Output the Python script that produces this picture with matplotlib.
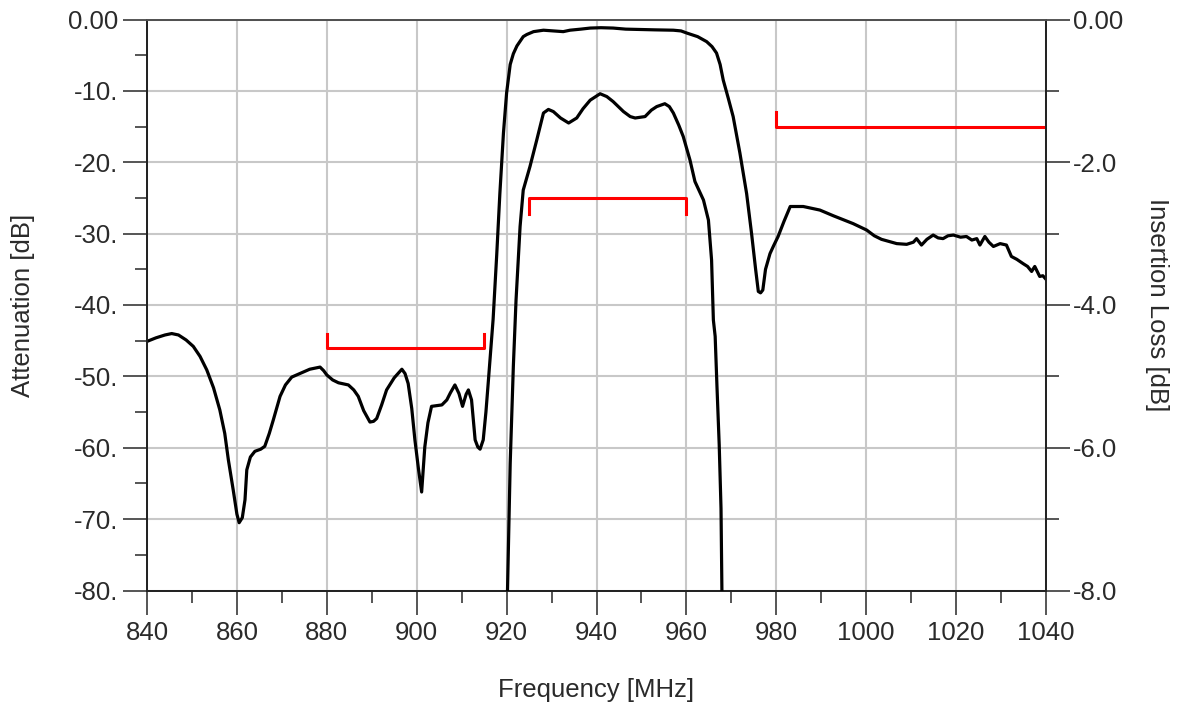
import matplotlib
matplotlib.use("Agg")
import matplotlib.pyplot as plt
from matplotlib.ticker import MultipleLocator, FuncFormatter

# ---------------- data ----------------
freq_att = [840.0, 842.0, 844.0, 845.5, 847.0, 848.7, 850.3, 851.8, 853.3, 854.8,
            856.2, 857.3, 858.1, 859.2, 860.0, 860.5, 861.2, 861.8, 862.2, 863.0,
            864.0, 865.3, 866.2, 867.2, 868.1, 869.6, 870.8, 872.2, 874.0, 876.2,
            878.5, 879.3, 880.0, 881.3, 882.6, 884.8, 886.0, 887.0, 888.2, 889.6,
            890.4, 891.1, 892.2, 893.3, 895.0, 896.7, 897.4, 898.1, 898.9, 899.6,
            900.4, 901.1, 901.8, 902.5, 903.3, 905.6, 906.7, 907.5, 908.5, 909.4,
            910.2, 911.0, 911.5, 912.2, 913.0, 913.6, 914.1, 914.8, 915.4, 915.9,
            917.0, 917.8, 918.5, 919.3, 920.0, 920.8, 921.5, 922.3, 923.7, 924.5,
            926.0, 928.2, 930.5, 932.6, 934.1, 936.5, 938.6, 941.0, 943.7, 946.5,
            949.7, 953.0, 957.1, 958.8, 960.1, 962.5, 964.5, 965.7, 966.7, 967.5,
            968.2, 969.3, 970.4, 971.9, 973.4, 974.5, 975.4, 976.0, 976.5, 977.0,
            977.6, 978.6, 979.4, 980.4, 981.7, 983.1, 986.0, 989.7, 992.7, 997.1,
            1000.1, 1001.8, 1003.4, 1006.8, 1009.0, 1010.5, 1011.2, 1012.3, 1013.5, 1014.9,
            1016.0, 1017.1, 1018.2, 1019.4, 1021.0, 1022.3, 1023.5, 1024.6, 1025.3, 1026.4,
            1027.3, 1028.3, 1029.8, 1031.2, 1032.3, 1033.5, 1034.9, 1035.9, 1036.8, 1037.5,
            1038.6, 1039.3, 1040.0]
att_db = [-45.1, -44.6, -44.2, -44.0, -44.2, -44.9, -45.8, -47.2, -49.1, -51.6,
          -54.7, -58.0, -61.7, -66.0, -69.3, -70.5, -69.8, -67.3, -63.1, -61.3,
          -60.5, -60.2, -59.8, -58.0, -56.1, -52.8, -51.2, -50.1, -49.6, -49.0,
          -48.7, -49.2, -49.8, -50.5, -50.9, -51.2, -51.9, -52.8, -54.8, -56.4,
          -56.3, -55.9, -54.0, -51.9, -50.2, -49.0, -49.6, -51.0, -54.5, -58.9,
          -63.0, -66.2, -59.9, -56.5, -54.2, -54.0, -53.3, -52.3, -51.2, -52.4,
          -54.2, -52.5, -51.9, -53.3, -58.9, -59.9, -60.2, -58.9, -55.0, -51.0,
          -42.0, -33.0, -24.4, -15.9, -10.3, -6.3, -4.8, -3.7, -2.4, -2.1,
          -1.7, -1.5, -1.6, -1.7, -1.5, -1.35, -1.2, -1.15, -1.2, -1.35,
          -1.4, -1.45, -1.5, -1.6, -1.9, -2.4, -3.1, -3.8, -4.7, -6.3,
          -8.5, -11.0, -13.6, -18.7, -24.4, -30.0, -35.0, -38.1, -38.3, -37.9,
          -35.0, -32.8, -31.7, -30.4, -28.3, -26.2, -26.2, -26.7, -27.5, -28.6,
          -29.5, -30.3, -30.8, -31.4, -31.5, -31.2, -30.7, -31.6, -30.8, -30.2,
          -30.6, -30.7, -30.3, -30.2, -30.5, -30.4, -30.9, -30.7, -31.6, -30.4,
          -31.2, -31.8, -31.4, -31.6, -33.2, -33.6, -34.2, -34.6, -35.3, -34.6,
          -36.0, -35.9, -36.4]

freq_il = [920.2, 920.8, 921.5, 922.1, 923.0, 923.7, 925.2, 926.7, 928.2, 929.3,
           930.4, 932.0, 933.8, 935.6, 937.0, 938.6, 940.8, 942.3, 943.7, 946.0,
           947.5, 948.6, 950.8, 952.2, 953.4, 955.2, 956.2, 957.1, 958.3, 959.3,
           960.8, 961.9, 963.8, 964.9, 965.6, 966.0, 966.4, 966.8, 967.3, 967.7,
           967.9]
il_db = [-8.0, -6.22, -4.86, -3.93, -2.90, -2.39, -2.06, -1.69, -1.31, -1.26,
         -1.29, -1.38, -1.45, -1.38, -1.25, -1.13, -1.04, -1.08, -1.15, -1.29,
         -1.36, -1.38, -1.36, -1.27, -1.22, -1.18, -1.22, -1.31, -1.48, -1.64,
         -1.97, -2.27, -2.53, -2.81, -3.37, -4.21, -4.44, -5.14, -5.96, -6.85,
         -8.0]

# specification masks
mask_low_f = [880, 880, 915, 915]
mask_low_db = [-44, -46, -46, -44]          # attenuation [dB]
mask_pass_f = [925, 925, 960, 960]
mask_pass_db = [-2.73, -2.5, -2.5, -2.73]   # insertion loss [dB]
mask_high_f = [980, 980, 1040]
mask_high_db = [-13, -15, -15]              # attenuation [dB]

# ---------------- figure ----------------
plt.rcParams['font.family'] = ['Liberation Sans', 'DejaVu Sans']
FS = 18.5
PX = 72.0 / 100.0  # points per pixel at dpi 100
TXT = '#2a2a2a'

fig = plt.figure(figsize=(11.77, 7.08), dpi=100)
ax = fig.add_axes([147 / 1177, 117.5 / 708, 899 / 1177, 571 / 708])
ax2 = ax.twinx()

ax.set_xlim(840, 1040)
ax.set_ylim(-80, 0)
ax2.set_ylim(-8, 0)

ax.grid(True, which='major', color='#c8c8c8', linewidth=1.5)
ax.set_axisbelow(True)

ax.plot(freq_att, att_db, color='black', linewidth=2.3, zorder=3)
ax.plot(mask_low_f, mask_low_db, color='#ff0000', linewidth=2.2, zorder=4)
ax.plot(mask_high_f, mask_high_db, color='#ff0000', linewidth=2.2, zorder=4)
ax2.plot(mask_pass_f, mask_pass_db, color='#ff0000', linewidth=2.2, zorder=4)
ax2.plot(freq_il, il_db, color='black', linewidth=2.3, zorder=3)

# ticks
ax.xaxis.set_major_locator(MultipleLocator(20))
ax.xaxis.set_minor_locator(MultipleLocator(10))
ax.yaxis.set_major_locator(MultipleLocator(10))
ax.yaxis.set_minor_locator(MultipleLocator(5))
ax2.yaxis.set_major_locator(MultipleLocator(2))
ax2.yaxis.set_minor_locator(MultipleLocator(1))

def left_fmt(v, pos):
    if abs(v) < 1e-9:
        return '0.00'
    return '%d.' % round(v)

def right_fmt(v, pos):
    if abs(v) < 1e-9:
        return '0.00'
    return '%.1f' % v

ax.yaxis.set_major_formatter(FuncFormatter(left_fmt))
ax2.yaxis.set_major_formatter(FuncFormatter(right_fmt))

tw = 1.5 * PX
ax.tick_params(axis='both', which='major', direction='out', length=24 * PX,
               width=tw, labelsize=FS, colors='#222222', labelcolor=TXT)
ax.tick_params(axis='both', which='minor', direction='out', length=12 * PX,
               width=tw, colors='#222222')
ax.tick_params(axis='y', which='major', pad=5 * PX)
ax.tick_params(axis='x', which='major', pad=6 * PX)
ax.tick_params(top=False, right=False, which='both')
ax2.tick_params(axis='y', which='major', direction='out', length=24 * PX,
                width=tw, labelsize=FS, pad=3 * PX, colors='#222222',
                labelcolor=TXT)
ax2.tick_params(axis='y', which='minor', direction='out', length=13 * PX,
                width=tw, colors='#222222')

for a in (ax, ax2):
    for s in a.spines.values():
        s.set_color('#222222')
        s.set_linewidth(1.3)
ax2.spines['top'].set_color('#555555')

# labels
ax.set_xlabel('Frequency [MHz]', fontsize=FS, va='center', color=TXT)
ax.xaxis.set_label_coords(0.5, (590.5 - 690) / 571)
ax.set_ylabel('Attenuation [dB]', fontsize=FS, va='center', ha='center',
              color=TXT)
ax.yaxis.set_label_coords((23 - 147) / 899, 0.5)
ax2.set_ylabel('Insertion Loss [dB]', fontsize=FS, rotation=-90, va='center',
               ha='center', color=TXT)
ax2.yaxis.set_label_coords((1157 - 147) / 899, 0.5)

fig.savefig('out.png', dpi=100)
